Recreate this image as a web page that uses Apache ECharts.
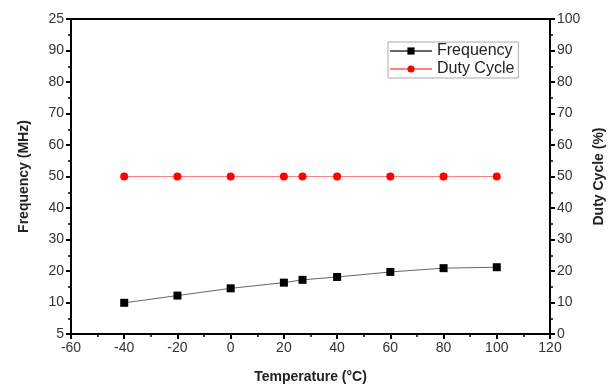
<!DOCTYPE html>
<html>
<head>
<meta charset="utf-8">
<script src="https://cdn.jsdelivr.net/npm/echarts@6/dist/echarts.min.js"></script>
<style>
html,body{margin:0;padding:0;background:#fff;}
#chart{width:614px;height:389px;}
</style>
</head>
<body>
<div id="chart"></div>
<script>
// data
var temperature = [-40, -20, 0, 20, 27, 40, 60, 80, 100];
var frequency = [9.9, 12.2, 14.5, 16.3, 17.2, 18.1, 19.7, 20.9, 21.2];
var dutyCycle = [50, 50, 50, 50, 50, 50, 50, 50, 50];
// left tick labels as printed in the figure (bottom to top)
var freqTickLabels = ['5', '10', '20', '30', '40', '50', '60', '70', '80', '90', '25'];

var font = 'Liberation Sans, Arial, sans-serif';

function pairs(xs, ys) {
    return xs.map(function (x, i) { return [x, ys[i]]; });
}

var tickStyle = { color: '#000', width: 2 };
var labelStyle = { fontFamily: font, fontSize: 14, color: '#333', margin: 7 };
var nameStyle = { fontFamily: font, fontSize: 14, fontWeight: 'bold', color: '#222' };

var chart = echarts.init(document.getElementById('chart'));
chart.setOption({
    animation: false,
    grid: {
        left: 71,
        right: 62,
        top: 19,
        bottom: 55,
        show: true,
        borderColor: '#000',
        borderWidth: 2
    },
    legend: {
        orient: 'vertical',
        left: 388,
        top: 42,
        itemWidth: 42,
        itemHeight: 9,
        itemGap: 2,
        padding: [1, 4, 1, 1],
        borderColor: '#aaa',
        borderWidth: 1,
        textStyle: { fontFamily: font, fontSize: 16, color: '#222' },
        data: ['Frequency', 'Duty Cycle']
    },
    xAxis: {
        type: 'value',
        min: -60,
        max: 120,
        interval: 20,
        name: 'Temperature (°C)',
        nameLocation: 'middle',
        nameGap: 36,
        nameTextStyle: nameStyle,
        axisLine: { onZero: false, lineStyle: { color: '#000', width: 2 } },
        axisTick: { show: true, length: 5, lineStyle: tickStyle },
        minorTick: { show: true, splitNumber: 2, length: 3, lineStyle: { color: '#000', width: 1.5 } },
        axisLabel: labelStyle,
        splitLine: { show: false }
    },
    yAxis: [
        {
            type: 'value',
            min: 0,
            max: 100,
            interval: 10,
            name: 'Frequency (MHz)',
            nameLocation: 'middle',
            nameGap: 40,
            nameRotate: 90,
            nameTextStyle: nameStyle,
            axisLine: { show: true, onZero: false, lineStyle: { color: '#000', width: 2 } },
            axisTick: { show: true, length: 5, lineStyle: tickStyle },
            minorTick: { show: true, splitNumber: 2, length: 3, lineStyle: { color: '#000', width: 1.5 } },
            axisLabel: {
                fontFamily: font, fontSize: 14, color: '#333', margin: 7,
                formatter: function (v) { return freqTickLabels[Math.round(v / 10)]; }
            },
            splitLine: { show: false }
        },
        {
            type: 'value',
            min: 0,
            max: 100,
            interval: 10,
            position: 'right',
            name: 'Duty Cycle (%)',
            nameLocation: 'middle',
            nameGap: 42,
            nameRotate: 90,
            nameTextStyle: nameStyle,
            axisLine: { show: true, onZero: false, lineStyle: { color: '#000', width: 2 } },
            axisTick: { show: true, length: 5, lineStyle: tickStyle },
            minorTick: { show: true, splitNumber: 2, length: 3, lineStyle: { color: '#000', width: 1.5 } },
            axisLabel: labelStyle,
            splitLine: { show: false }
        }
    ],
    series: [
        {
            name: 'Frequency',
            type: 'line',
            yAxisIndex: 0,
            data: pairs(temperature, frequency),
            symbol: 'rect',
            symbolSize: 8,
            itemStyle: { color: '#000' },
            lineStyle: { color: '#666', width: 1 }
        },
        {
            name: 'Duty Cycle',
            type: 'line',
            yAxisIndex: 1,
            data: pairs(temperature, dutyCycle),
            symbol: 'circle',
            symbolSize: 8,
            itemStyle: { color: '#ff0000' },
            lineStyle: { color: '#ff8080', width: 1 }
        }
    ]
});
</script>
</body>
</html>
